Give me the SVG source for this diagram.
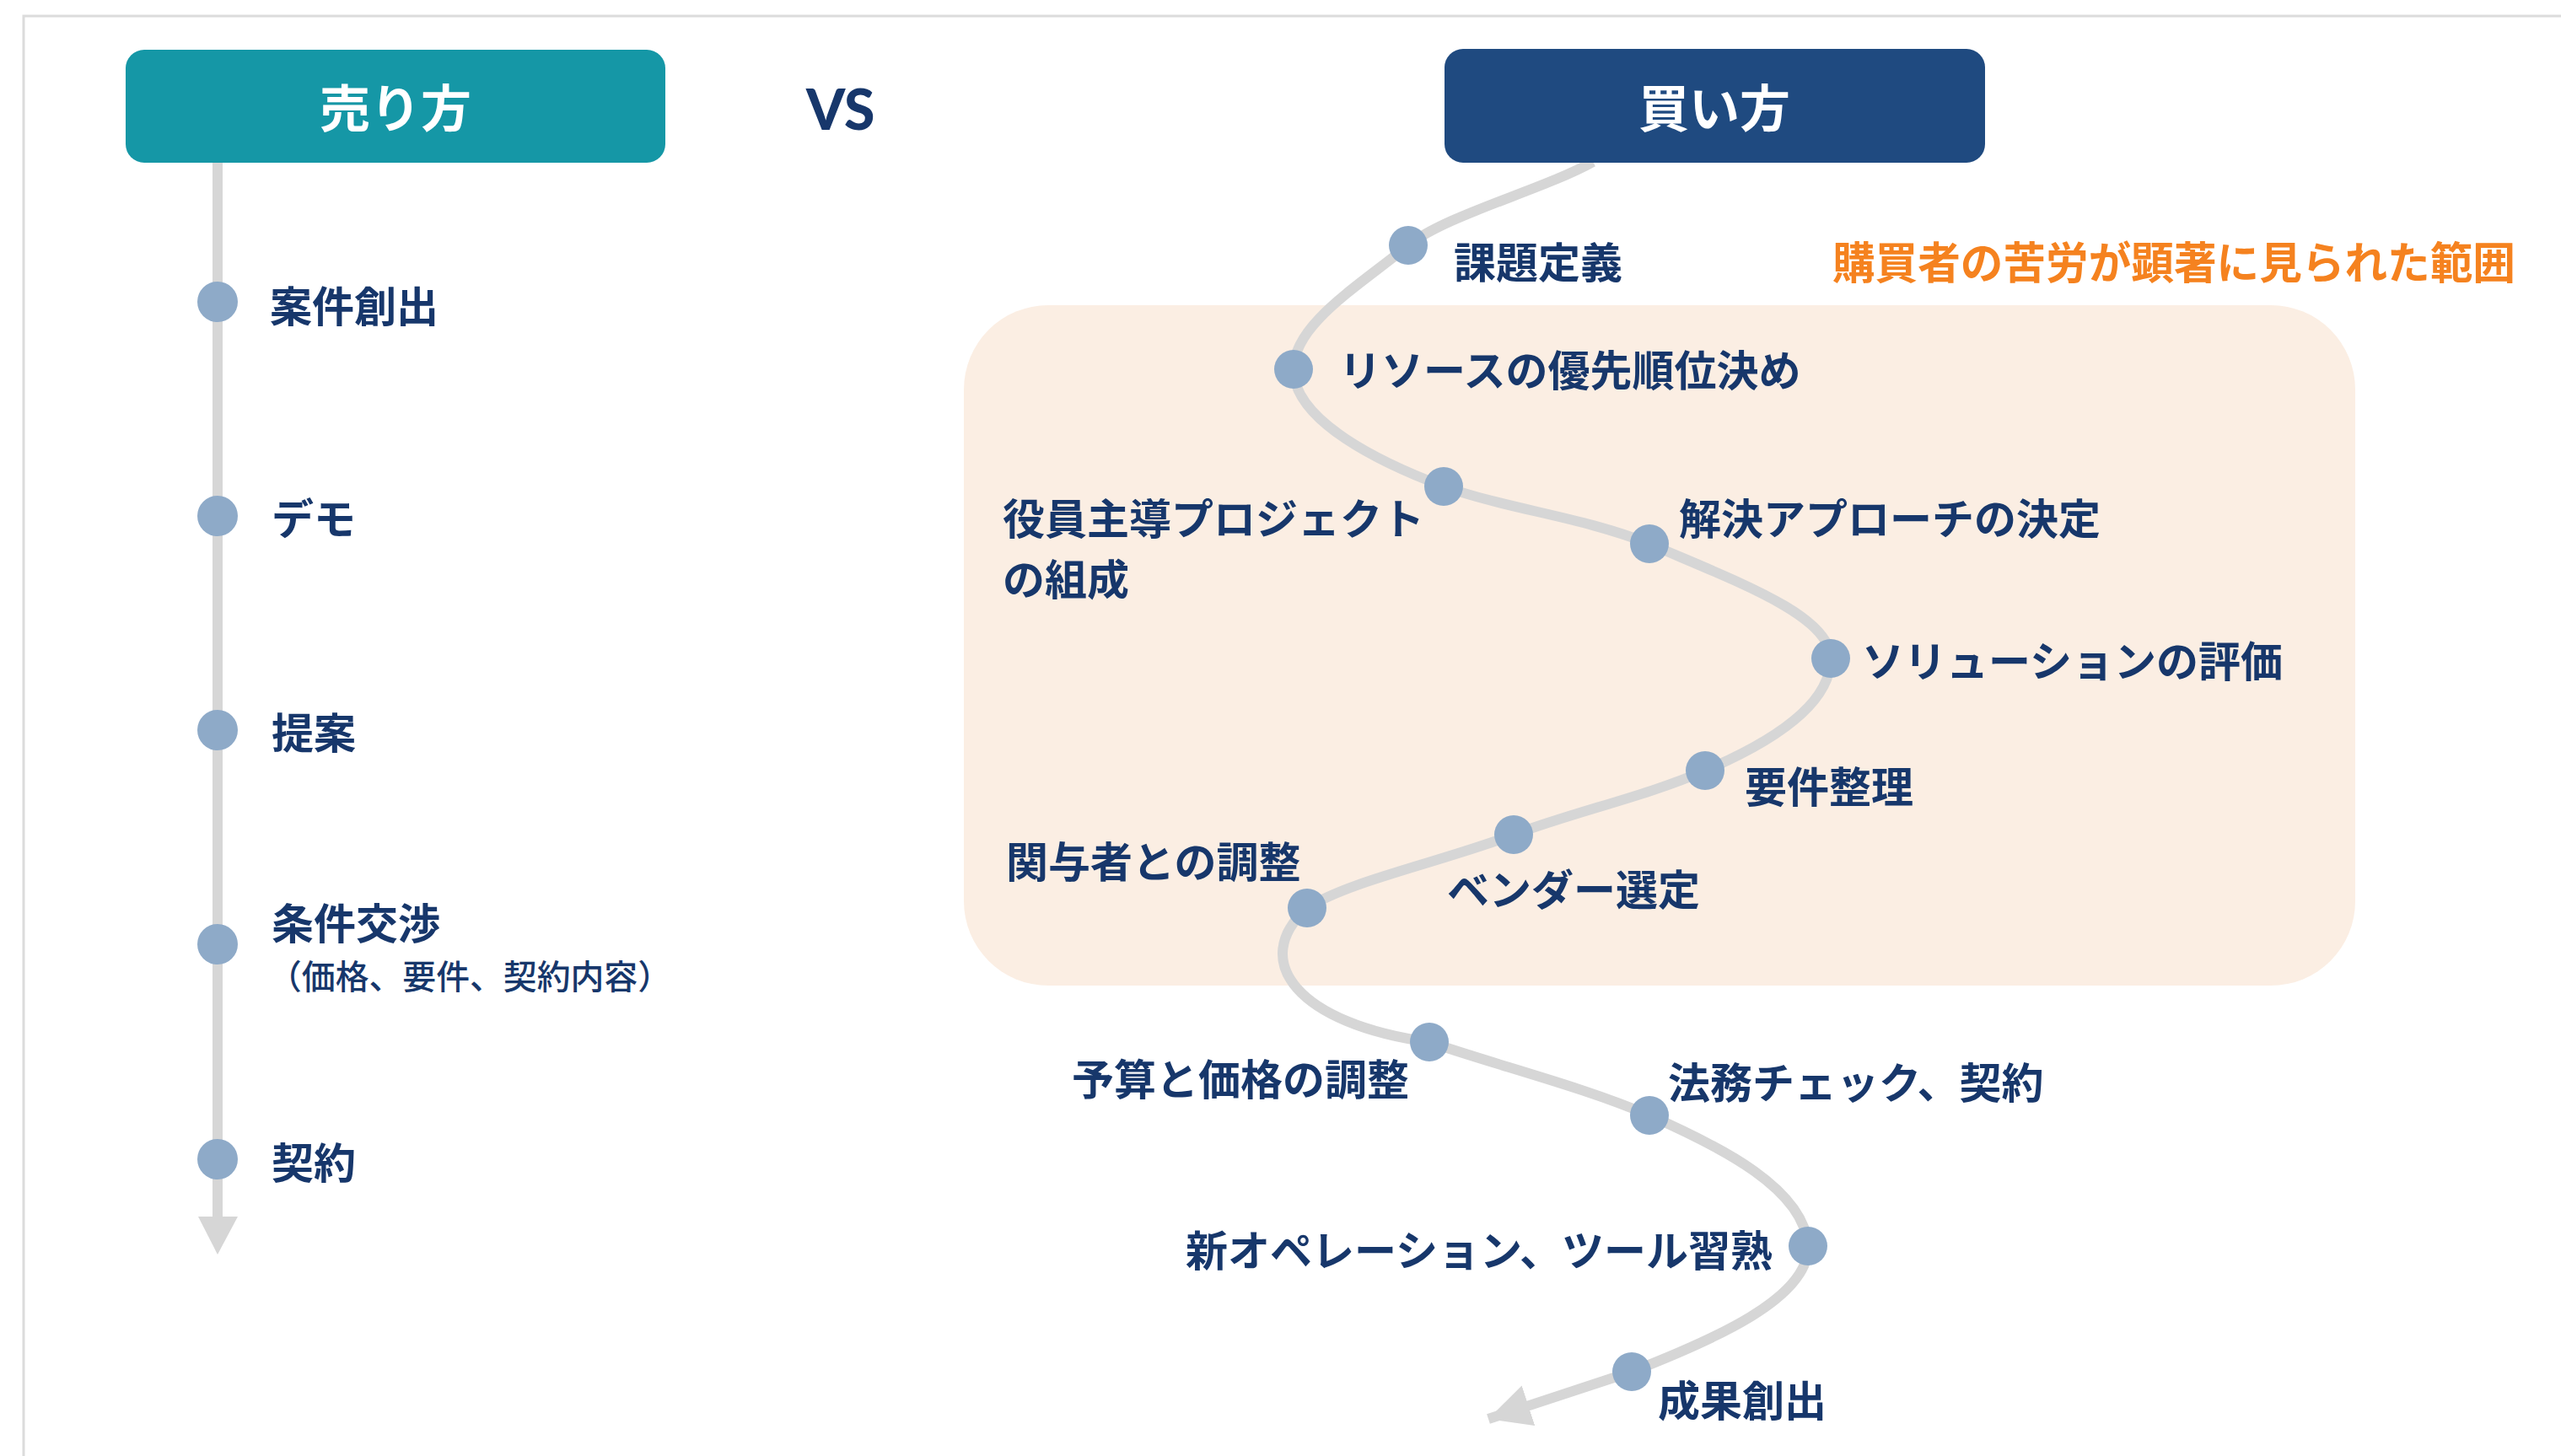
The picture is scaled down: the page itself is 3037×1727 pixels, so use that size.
<svg xmlns="http://www.w3.org/2000/svg" width="3037" height="1727" viewBox="0 0 3037 1727">
<defs>
<style>
.lbl{font-family:"Noto Sans CJK JP","Noto Sans",sans-serif;font-weight:700;font-size:50px;fill:#17376b;dominant-baseline:central}
.sub{font-family:"Noto Sans CJK JP","Noto Sans",sans-serif;font-weight:500;font-size:40px;fill:#17376b;dominant-baseline:central}
.hdr{font-family:"Noto Sans CJK JP","Noto Sans",sans-serif;font-weight:700;font-size:60px;fill:#ffffff;dominant-baseline:central;text-anchor:middle}
.dot{fill:#8eaac8}
.track{fill:none;stroke:#d6d6d6;stroke-width:12}
</style>
<marker id="arr" markerUnits="userSpaceOnUse" markerWidth="60" markerHeight="60" refX="50" refY="25" orient="auto">
<path d="M0,0 L50,25 L0,50 Z" fill="#d6d6d6"/>
</marker>
</defs>
<rect width="3037" height="1727" fill="#ffffff"/>
<path d="M28 1727 V19 H3037" fill="none" stroke="#dcdcdc" stroke-width="3"/>
<rect x="1143" y="362" width="1650" height="807" rx="100" ry="100" fill="#fbeee3"/>

<g id="connectors">
<path class="track" d="M258 190 V1445"/>
<path d="M235 1443 L282 1443 L258 1488 Z" fill="#d6d6d6"/>
<path class="track" marker-end="url(#arr)" d="M1889 192 C1830 225,1715 255,1670 291 C1610 340,1534 385,1534 438 C1534 500,1640 550,1712 577 C1792 605,1876 613,1956 645 C2060 690,2171 730,2171 781 C2171 840,2090 885,2022 914 C1950 945,1870 962,1795 990 C1700 1025,1600 1045,1550 1077 C1480 1140,1540 1215,1695 1236 C1780 1265,1880 1290,1956 1323 C2040 1360,2140 1410,2144 1478 C2146 1540,2030 1590,1935 1627 L1765 1683"/>
</g>

<g id="sell-header">
<rect x="149" y="59" width="640" height="134" rx="22" fill="#1597a6"/>
<text class="hdr" x="469" y="124">売り方</text>
</g>
<g id="vs">
<text x="956" y="154" font-family="Lato,'Open Sans',sans-serif" font-weight="900" font-size="66" fill="#17376b">VS</text>
</g>
<g id="buy-header">
<rect x="1713" y="58" width="641" height="135" rx="22" fill="#1f4a80"/>
<text class="hdr" x="2033" y="124">買い方</text>
</g>

<g id="sell-1"><circle class="dot" cx="258" cy="358" r="24"/><text class="lbl" x="320" y="360">案件創出</text></g>
<g id="sell-2"><circle class="dot" cx="258" cy="612" r="24"/><text class="lbl" x="322" y="612">デモ</text></g>
<g id="sell-3"><circle class="dot" cx="258" cy="866" r="24"/><text class="lbl" x="322" y="866">提案</text></g>
<g id="sell-4"><circle class="dot" cx="258" cy="1120" r="24"/><text class="lbl" x="322" y="1092">条件交渉</text><text class="sub" x="318" y="1156" textLength="478" lengthAdjust="spacingAndGlyphs">（価格、要件、契約内容）</text></g>
<g id="sell-5"><circle class="dot" cx="258" cy="1375" r="24"/><text class="lbl" x="322" y="1376">契約</text></g>

<g id="note"><text x="2173" y="308" font-family="'Noto Sans CJK JP',sans-serif" font-weight="700" font-size="52" fill="#f5821f" dominant-baseline="central" textLength="810" lengthAdjust="spacingAndGlyphs">購買者の苦労が顕著に見られた範囲</text></g>

<g id="buy-1"><circle class="dot" cx="1670" cy="291" r="23"/><text class="lbl" x="1724" y="308">課題定義</text></g>
<g id="buy-2"><circle class="dot" cx="1534" cy="438" r="23"/><text class="lbl" x="1588" y="436">リソースの優先順位決め</text></g>
<g id="buy-3"><circle class="dot" cx="1712" cy="577" r="23"/><text class="lbl" x="1189" y="612">役員主導プロジェクト</text><text class="lbl" x="1189" y="684">の組成</text></g>
<g id="buy-4"><circle class="dot" cx="1956" cy="645" r="23"/><text class="lbl" x="1991" y="612">解決アプローチの決定</text></g>
<g id="buy-5"><circle class="dot" cx="2171" cy="781" r="23"/><text class="lbl" x="2208" y="781">ソリューションの評価</text></g>
<g id="buy-6"><circle class="dot" cx="2022" cy="914" r="23"/><text class="lbl" x="2069" y="930">要件整理</text></g>
<g id="buy-7"><circle class="dot" cx="1795" cy="990" r="23"/><text class="lbl" x="1716" y="1052">ベンダー選定</text></g>
<g id="buy-8"><circle class="dot" cx="1550" cy="1077" r="23"/><text class="lbl" x="1193" y="1019">関与者との調整</text></g>
<g id="buy-9"><circle class="dot" cx="1695" cy="1236" r="23"/><text class="lbl" x="1271" y="1277">予算と価格の調整</text></g>
<g id="buy-10"><circle class="dot" cx="1956" cy="1323" r="23"/><text class="lbl" x="1978" y="1281">法務チェック、契約</text></g>
<g id="buy-11"><circle class="dot" cx="2144" cy="1478" r="23"/><text class="lbl" x="1406" y="1480">新オペレーション、ツール習熟</text></g>
<g id="buy-12"><circle class="dot" cx="1935" cy="1627" r="23"/><text class="lbl" x="1966" y="1658">成果創出</text></g>
</svg>
